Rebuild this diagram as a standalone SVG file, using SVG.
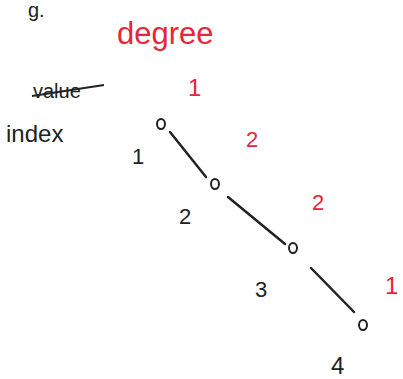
<svg xmlns="http://www.w3.org/2000/svg" width="403" height="379" viewBox="0 0 403 379">
<style>
.bk{font-family:"Liberation Sans",Arial,sans-serif;fill:#222}
.rd{font-family:"Liberation Sans",Arial,sans-serif;fill:#e8253a}
.node{fill:none;stroke:#222;stroke-width:2}
.edge{stroke:#222;stroke-width:2.5;stroke-linecap:round;fill:none}
</style>
<rect width="403" height="379" fill="#fff"/>
<text class="bk" x="28" y="17" font-size="20">g.</text>
<text class="rd" x="117" y="44" font-size="31">degree</text>
<g id="labels-left">
<text class="bk" x="33" y="98" font-size="20">value</text>
<line x1="32" y1="96" x2="104" y2="85" stroke="#222" stroke-width="2"/>
<text class="bk" x="6" y="142" font-size="24">index</text>
</g>
<g id="connectors">
<line class="edge" x1="170" y1="132" x2="206" y2="177"/>
<line class="edge" x1="228" y1="197" x2="285" y2="244"/>
<line class="edge" x1="311" y1="268" x2="354" y2="312"/>
</g>
<g id="n1"><ellipse class="node" cx="161" cy="124" rx="4" ry="5"/><text class="bk" x="132" y="164" font-size="22">1</text><text class="rd" x="188" y="96" font-size="24">1</text></g>
<g id="n2"><ellipse class="node" cx="215" cy="184" rx="4" ry="5"/><text class="bk" x="179" y="224" font-size="22">2</text><text class="rd" x="246" y="147" font-size="22">2</text></g>
<g id="n3"><ellipse class="node" cx="293" cy="248" rx="4" ry="5"/><text class="bk" x="255" y="297" font-size="22">3</text><text class="rd" x="312" y="210" font-size="22">2</text></g>
<g id="n4"><ellipse class="node" cx="363" cy="325" rx="4" ry="5"/><text class="bk" x="331" y="374" font-size="24">4</text><text class="rd" x="385" y="294" font-size="24">1</text></g>
</svg>
